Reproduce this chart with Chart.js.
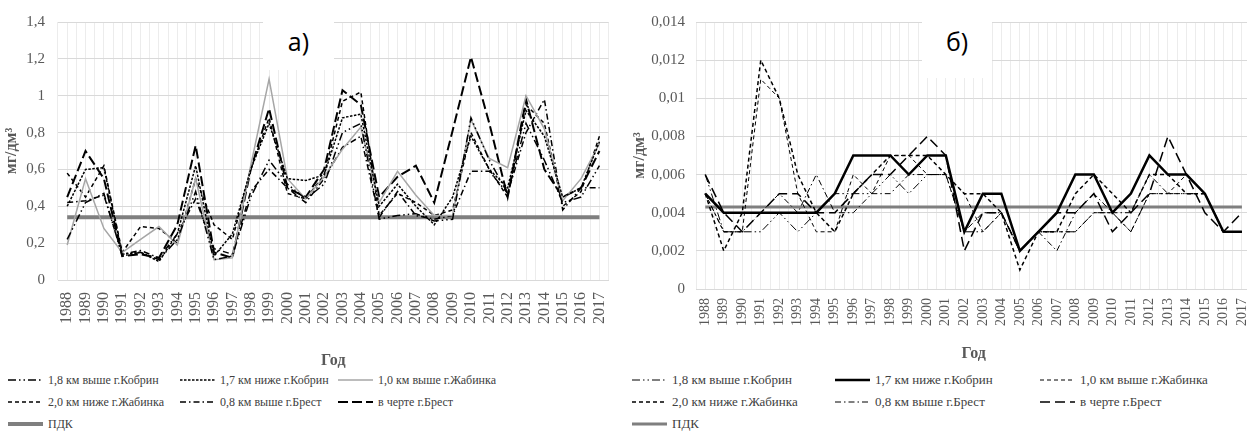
<!DOCTYPE html>
<html>
<head>
<meta charset="utf-8">
<script src="https://cdn.jsdelivr.net/npm/chart.js@4.4.0/dist/chart.umd.min.js"></script>
<style>
  body { margin: 0; width: 1247px; height: 432px; overflow: hidden; background: #fff; position: relative; font-family: "Liberation Serif", "DejaVu Serif", serif; }
  .panel { position: absolute; top: 0; }
  .tag { position: absolute; background: #fff; font-family: "Open Sans", "Noto Sans", sans-serif; font-size: 25px; color: #000; text-align: center; }
  .legend { position: absolute; top: 0; left: 0; }
  .item { position: absolute; display: flex; align-items: center; white-space: nowrap; color: #404040; height: 16px; }
  .item canvas { margin-right: 5px; }
  #legendA .item { font-size: 12px; }
  #legendB .item { font-size: 13px; }
</style>
</head>
<body>
<div class="panel" style="left:0;width:631px;height:372px"><canvas id="chartA"></canvas></div>
<div class="panel" style="left:620px;width:648px;height:363px"><canvas id="chartB"></canvas></div>
<div class="tag" style="left:263px;top:8px;width:71px;height:62px;line-height:66px">а)</div>
<div class="tag" style="left:922px;top:8px;width:70px;height:70px;line-height:66px">б)</div>
<div class="legend" id="legendA"></div>
<div class="legend" id="legendB"></div>

<script>
// годы наблюдений
const years = ['1988', '1989', '1990', '1991', '1992', '1993', '1994', '1995', '1996', '1997',
    '1998', '1999', '2000', '2001', '2002', '2003', '2004', '2005', '2006', '2007',
    '2008', '2009', '2010', '2011', '2012', '2013', '2014', '2015', '2016', '2017'];

const seriesNames = ['1,8 км выше г.Кобрин', '1,7 км ниже г.Кобрин', '1,0 км выше г.Жабинка',
    '2,0 км ниже г.Жабинка', '0,8 км выше г.Брест', 'в черте г.Брест'];
const pdkName = 'ПДК';

// а) мг/дм3
const a_kobrinAbove = [0.22, 0.42, 0.47, 0.13, 0.15, 0.11, 0.22, 0.48, 0.11, 0.13, 0.45, 0.65, 0.52, 0.44, 0.52, 0.80, 0.85, 0.33, 0.35, 0.36, 0.32, 0.33, 0.88, 0.65, 0.47, 0.85, 0.65, 0.42, 0.45, 0.62];
const a_kobrinBelow = [0.40, 0.60, 0.61, 0.14, 0.15, 0.10, 0.25, 0.62, 0.13, 0.25, 0.60, 0.85, 0.55, 0.54, 0.57, 0.88, 0.90, 0.40, 0.52, 0.40, 0.30, 0.45, 0.78, 0.60, 0.50, 0.92, 0.78, 0.45, 0.50, 0.75];
const a_zhabAbove = [0.19, 0.55, 0.28, 0.15, 0.22, 0.29, 0.19, 0.55, 0.11, 0.12, 0.62, 1.09, 0.55, 0.44, 0.56, 0.71, 0.83, 0.42, 0.59, 0.46, 0.35, 0.35, 0.87, 0.66, 0.61, 1.00, 0.82, 0.43, 0.55, 0.74];
const a_zhabBelow = [0.58, 0.45, 0.62, 0.15, 0.29, 0.28, 0.20, 0.55, 0.30, 0.22, 0.60, 0.88, 0.47, 0.44, 0.57, 0.97, 1.02, 0.35, 0.47, 0.42, 0.35, 0.38, 0.80, 0.60, 0.45, 0.95, 0.85, 0.40, 0.48, 0.78];
const a_brestAbove = [0.42, 0.43, 0.46, 0.14, 0.16, 0.12, 0.25, 0.44, 0.17, 0.14, 0.48, 0.60, 0.50, 0.42, 0.55, 0.72, 0.78, 0.34, 0.48, 0.35, 0.33, 0.35, 0.59, 0.59, 0.47, 0.80, 0.98, 0.38, 0.50, 0.50];
const a_brestCity = [0.45, 0.70, 0.55, 0.13, 0.14, 0.12, 0.30, 0.73, 0.15, 0.12, 0.60, 0.93, 0.50, 0.45, 0.60, 1.03, 0.95, 0.45, 0.56, 0.62, 0.42, 0.81, 1.21, 0.85, 0.45, 0.98, 0.60, 0.45, 0.50, 0.70];
const a_pdk = [0.34, 0.34, 0.34, 0.34, 0.34, 0.34, 0.34, 0.34, 0.34, 0.34, 0.34, 0.34, 0.34, 0.34, 0.34, 0.34, 0.34, 0.34, 0.34, 0.34, 0.34, 0.34, 0.34, 0.34, 0.34, 0.34, 0.34, 0.34, 0.34, 0.34];

// б) мг/дм3
const b_kobrinAbove = [0.006, 0.003, 0.003, 0.003, 0.004, 0.003, 0.004, 0.005, 0.005, 0.005, 0.006, 0.005, 0.006, 0.006, 0.003, 0.003, 0.004, 0.002, 0.003, 0.003, 0.003, 0.004, 0.004, 0.003, 0.005, 0.005, 0.005, 0.005, 0.003, 0.003];
const b_kobrinBelow = [0.005, 0.004, 0.004, 0.004, 0.004, 0.004, 0.004, 0.005, 0.007, 0.007, 0.007, 0.006, 0.007, 0.007, 0.003, 0.005, 0.005, 0.002, 0.003, 0.004, 0.006, 0.006, 0.004, 0.005, 0.007, 0.006, 0.006, 0.005, 0.003, 0.003];
const b_zhabAbove = [0.005, 0.003, 0.003, 0.011, 0.010, 0.005, 0.003, 0.003, 0.006, 0.005, 0.007, 0.007, 0.006, 0.006, 0.005, 0.003, 0.004, 0.002, 0.003, 0.003, 0.003, 0.004, 0.004, 0.003, 0.005, 0.005, 0.006, 0.005, 0.003, 0.003];
const b_zhabBelow = [0.005, 0.002, 0.004, 0.012, 0.010, 0.006, 0.004, 0.003, 0.005, 0.006, 0.007, 0.007, 0.007, 0.006, 0.005, 0.005, 0.004, 0.001, 0.003, 0.003, 0.005, 0.006, 0.005, 0.004, 0.006, 0.006, 0.005, 0.005, 0.003, 0.003];
const b_brestAbove = [0.005, 0.003, 0.003, 0.004, 0.005, 0.004, 0.006, 0.004, 0.004, 0.005, 0.005, 0.006, 0.006, 0.006, 0.003, 0.004, 0.004, 0.002, 0.003, 0.002, 0.004, 0.005, 0.004, 0.004, 0.006, 0.005, 0.005, 0.005, 0.003, 0.003];
const b_brestCity = [0.006, 0.004, 0.003, 0.004, 0.005, 0.005, 0.004, 0.004, 0.005, 0.006, 0.006, 0.007, 0.008, 0.007, 0.002, 0.004, 0.004, 0.002, 0.003, 0.004, 0.004, 0.005, 0.003, 0.004, 0.005, 0.008, 0.006, 0.004, 0.003, 0.004];
const b_pdk = [0.0043, 0.0043, 0.0043, 0.0043, 0.0043, 0.0043, 0.0043, 0.0043, 0.0043, 0.0043, 0.0043, 0.0043, 0.0043, 0.0043, 0.0043, 0.0043, 0.0043, 0.0043, 0.0043, 0.0043, 0.0043, 0.0043, 0.0043, 0.0043, 0.0043, 0.0043, 0.0043, 0.0043, 0.0043, 0.0043];

const serif = '"Liberation Serif", "DejaVu Serif", serif';
const tickColor = '#595959';

function line(label, data, color, width, dash) {
    return {
        label: label, data: data, borderColor: color, borderWidth: width,
        borderDash: dash, pointRadius: 0, tension: 0, fill: false
    };
}

function makeOptions(yMax, yStep, yWidth, xHeight, tickSize, yPad, xPad, titleBottom, yTitlePad) {
    return {
        responsive: true,
        maintainAspectRatio: false,
        animation: false,
        layout: { padding: { top: 22, right: 0, left: 0, bottom: 0 } },
        plugins: { legend: { display: false }, tooltip: { enabled: false } },
        scales: {
            x: {
                offset: true,
                grid: { color: '#ececec', offset: false, drawTicks: false },
                border: { display: true, color: '#d9d9d9' },
                ticks: {
                    autoSkip: false, maxRotation: 90, minRotation: 90, padding: xPad,
                    color: tickColor, font: { family: serif, size: tickSize }
                },
                title: {
                    display: true, text: 'Год', color: tickColor,
                    font: { family: serif, size: 16, weight: 'bold' },
                    padding: { top: 0, bottom: titleBottom }
                },
                afterFit: function (scale) { scale.height = xHeight; }
            },
            x2: {
                position: 'top',
                offset: true,
                grid: { color: '#ececec', offset: true, drawTicks: false },
                border: { display: false },
                ticks: { display: false }
            },
            y: {
                min: 0, max: yMax,
                grid: { color: '#d9d9d9', drawTicks: false },
                border: { display: false },
                ticks: {
                    stepSize: yStep, padding: yPad, color: tickColor,
                    font: { family: serif, size: 15 },
                    callback: function (v) { return String(+v.toFixed(4)).replace('.', ','); }
                },
                title: {
                    display: true, text: 'мг/дм³', color: tickColor,
                    font: { family: serif, size: 16, weight: 'bold' },
                    padding: { top: yTitlePad, bottom: 0 }
                },
                afterFit: function (scale) { scale.width = yWidth; }
            }
        }
    };
}

const dsA = [
    line(seriesNames[0], a_kobrinAbove, '#000', 1.5, [8, 3, 1.5, 3, 1.5, 3]),
    line(seriesNames[1], a_kobrinBelow, '#000', 1.5, [2.5, 1.5]),
    line(seriesNames[2], a_zhabAbove, '#a6a6a6', 1.5, []),
    line(seriesNames[3], a_zhabBelow, '#000', 1.5, [4, 3]),
    line(seriesNames[4], a_brestAbove, '#000', 1.5, [6, 3, 1.5, 3]),
    line(seriesNames[5], a_brestCity, '#000', 2, [10, 4]),
    line(pdkName, a_pdk, '#7f7f7f', 4, [])
];

const dsB = [
    line(seriesNames[0], b_kobrinAbove, '#000', 1, [8, 3, 1.5, 3, 1.5, 3]),
    line(seriesNames[1], b_kobrinBelow, '#000', 2.5, []),
    line(seriesNames[2], b_zhabAbove, '#000', 1, [4, 3]),
    line(seriesNames[3], b_zhabBelow, '#000', 1.5, [4, 3]),
    line(seriesNames[4], b_brestAbove, '#000', 1, [6, 3, 1.5, 3]),
    line(seriesNames[5], b_brestCity, '#000', 1.5, [10, 5]),
    line(pdkName, b_pdk, '#7f7f7f', 3, [])
];

// ПДК рисуется под остальными линиями
dsA[6].order = 10; dsB[6].order = 10;

new Chart(document.getElementById('chartA'), {
    type: 'line',
    data: { labels: years, datasets: dsA },
    options: makeOptions(1.4, 0.2, 58, 92, 16, 13, 12, 2, 2)
});

new Chart(document.getElementById('chartB'), {
    type: 'line',
    data: { labels: years, datasets: dsB },
    options: makeOptions(0.014, 0.002, 76, 74, 14, 11, 9, 0, 10)
});

// легенда в три колонки
function buildLegend(id, datasets, cols, rows) {
    const box = document.getElementById(id);
    datasets.forEach(function (ds, i) {
        const item = document.createElement('div');
        item.className = 'item';
        item.style.left = cols[i % 3] + 'px';
        item.style.top = rows[Math.floor(i / 3)] + 'px';
        const c = document.createElement('canvas');
        c.width = 35; c.height = 10;
        const g = c.getContext('2d');
        g.strokeStyle = ds.borderColor;
        g.lineWidth = ds.borderWidth;
        g.setLineDash(ds.borderDash);
        g.beginPath(); g.moveTo(0, 5); g.lineTo(35, 5); g.stroke();
        item.appendChild(c);
        const t = document.createElement('span');
        t.textContent = ds.label;
        item.appendChild(t);
        box.appendChild(item);
    });
}

buildLegend('legendA', dsA, [8, 180, 338], [372, 394, 416]);
buildLegend('legendB', dsB, [632, 835, 1040], [372, 394, 416]);
</script>
</body>
</html>
